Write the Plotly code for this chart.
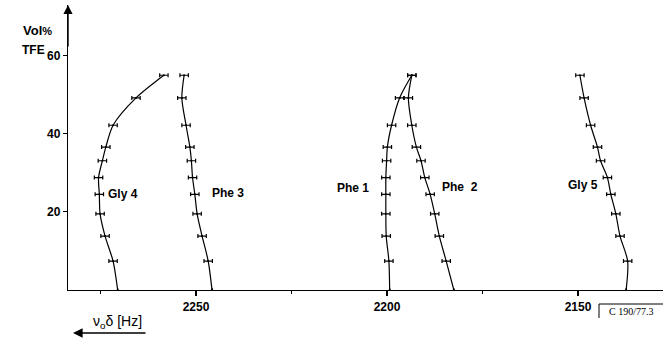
import plotly.graph_objects as go

# ---- data ----
tfe = [55.0, 49.2, 42.2, 36.6, 33.1, 28.8, 24.5, 19.5, 13.8, 7.4, 0.0]   # Vol% TFE
gly4 = [2258.4, 2265.7, 2271.7, 2273.6, 2274.5, 2275.5, 2275.3, 2275.1, 2273.8, 2271.7, 2270.5]
phe3 = [2253.1, 2253.7, 2252.6, 2251.6, 2251.2, 2250.9, 2250.3, 2249.7, 2248.4, 2246.8, 2245.8]
phe1 = [2193.5, 2196.7, 2198.8, 2199.9, 2200.1, 2200.3, 2200.3, 2200.3, 2200.2, 2199.5, 2199.3]
phe2 = [2193.5, 2194.4, 2193.5, 2192.3, 2191.1, 2190.1, 2188.7, 2187.5, 2186.3, 2184.5, 2182.5]
gly5 = [2149.5, 2148.4, 2146.7, 2144.9, 2144.1, 2142.3, 2141.4, 2140.1, 2139.0, 2137.0, 2137.4]
err = [1.1] * 10 + [0.0]

series = {"Gly 4": gly4, "Phe 3": phe3, "Phe 1": phe1, "Phe  2": phe2, "Gly 5": gly5}
label_pos = {"Gly 4": (2269.0, 24.6), "Phe 3": (2241.6, 24.8), "Phe 1": (2208.9, 26.2),
             "Phe  2": (2180.9, 26.5), "Gly 5": (2148.7, 27.0)}

x_major = [2250, 2200, 2150]
x_minor = [2275, 2225, 2175]
y_ticks = [20, 40, 60]

W, H = 663, 338
L, R, T, B = 68, 0, 5, 48
pw, ph = W - L - R, H - T - B

def px(xpix):
    return (xpix - L) / pw

def py(ypix):
    return (H - B - ypix) / ph

fig = go.Figure()
for name, xs in series.items():
    fig.add_trace(go.Scatter(
        x=xs, y=tfe, mode="lines+markers", name=name,
        line=dict(color="black", width=1.2, shape="spline", smoothing=0.8),
        marker=dict(size=2, color="black"),
        error_x=dict(type="data", array=err, visible=True, color="black",
                     thickness=1.2, width=2),
        showlegend=False, hoverinfo="skip"))
    lx, ly = label_pos[name]
    fig.add_annotation(x=lx, y=ly, text=name, showarrow=False,
                       xanchor="center", yanchor="middle",
                       font=dict(family="Liberation Sans", size=12, color="black", weight="bold"))

# y-axis arrowhead
fig.add_annotation(x=2283.5, y=73.0, ax=2283.5, ay=62.0, xref="x", yref="y",
                   axref="x", ayref="y", showarrow=True, arrowhead=2, arrowsize=1.3,
                   arrowwidth=1.4, arrowcolor="black", text="")

# axis titles
fig.add_annotation(x=px(37), y=py(31), xref="paper", yref="paper", showarrow=False,
                   xanchor="center", yanchor="middle",
                   text="Vol<span style='font-size:11px'>%</span>",
                   font=dict(family="Liberation Sans", size=13, color="black", weight="bold"))
fig.add_annotation(x=px(33), y=py(50), xref="paper", yref="paper", showarrow=False,
                   xanchor="center", yanchor="middle",
                   text="TFE",
                   font=dict(family="Liberation Sans", size=12, color="black", weight="bold"))
fig.add_annotation(x=px(117), y=py(322), xref="paper", yref="paper", showarrow=False,
                   xanchor="center", yanchor="middle",
                   text="ν<sub>o</sub>δ [Hz]",
                   font=dict(family="Liberation Sans", size=14, color="black"))
fig.add_annotation(x=px(73), y=py(333), ax=74, ay=0, xref="paper", yref="paper",
                   axref="pixel", ayref="pixel", showarrow=True, arrowhead=2, arrowsize=1.2,
                   arrowwidth=1.6, arrowcolor="black", text="")
# figure code at bottom right
fig.add_annotation(x=px(631), y=py(311), xref="paper", yref="paper", showarrow=False,
                   xanchor="center", yanchor="middle",
                   text="C 190/77.3",
                   font=dict(family="Liberation Serif", size=10, color="black"))
fig.add_shape(type="line", xref="paper", yref="paper", x0=px(599), x1=px(663),
              y0=py(304), y1=py(304), line=dict(color="black", width=1))
fig.add_shape(type="line", xref="paper", yref="paper", x0=px(599), x1=px(599),
              y0=py(304), y1=py(318), line=dict(color="black", width=1))

fig.update_layout(
    width=W, height=H, margin=dict(l=L, r=R, t=T, b=B),
    paper_bgcolor="white", plot_bgcolor="white",
    xaxis=dict(range=[2283.5, 2127.75], tickvals=x_major, ticktext=[str(v) for v in x_major],
               ticks="outside", ticklen=5, tickwidth=1.5, tickcolor="black",
               showline=True, linecolor="black", linewidth=1.3, showgrid=False, zeroline=False,
               tickfont=dict(family="Liberation Sans", size=12, color="black", weight="bold"),
               minor=dict(tickvals=x_minor, ticks="outside", ticklen=3, tickwidth=1.3,
                          tickcolor="black", showgrid=False)),
    yaxis=dict(range=[0, 73.0], tickvals=y_ticks, ticks="outside", ticklen=4, tickwidth=1.2,
               tickcolor="black", showline=True, linecolor="black", linewidth=1.3,
               showgrid=False, zeroline=False,
               tickfont=dict(family="Liberation Sans", size=12, color="black", weight="bold")),
)

fig.write_html("out.html")
